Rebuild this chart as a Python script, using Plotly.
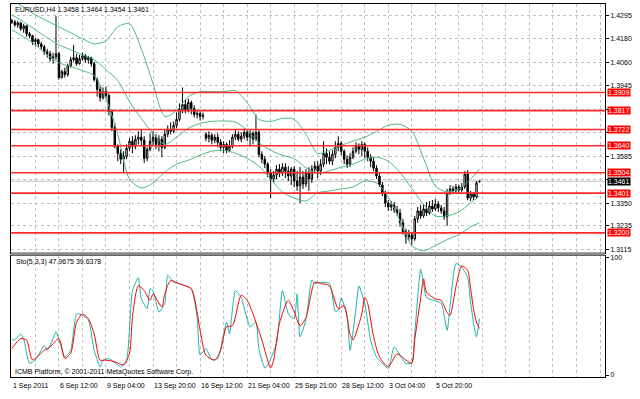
import plotly.graph_objects as go

# ---------------- data ----------------
opens = [1.4270, 1.4265, 1.4250, 1.4260, 1.4230, 1.4245, 1.4205, 1.4195, 1.4165, 1.4175,
         1.4154, 1.4139, 1.4114, 1.4104, 1.4079, 1.4089, 1.4104, 1.3984, 1.4014, 1.3999,
         1.4044, 1.4074, 1.4084, 1.4054, 1.4079, 1.4094, 1.4074, 1.4084, 1.4054, 1.3974,
         1.3924, 1.3883, 1.3913, 1.3893, 1.3813, 1.3733, 1.3637, 1.3602, 1.3572, 1.3587,
         1.3627, 1.3663, 1.3637, 1.3673, 1.3683, 1.3668, 1.3577, 1.3622, 1.3663, 1.3683,
         1.3647, 1.3673, 1.3632, 1.3698, 1.3723, 1.3713, 1.3743, 1.3773, 1.3823, 1.3848,
         1.3823, 1.3858, 1.3828, 1.3798, 1.3803, 1.3788, 1.3698, 1.3678, 1.3693, 1.3668,
         1.3683, 1.3657, 1.3632, 1.3647, 1.3617, 1.3637, 1.3683, 1.3698, 1.3673, 1.3688,
         1.3708, 1.3683, 1.3703, 1.3673, 1.3708, 1.3597, 1.3572, 1.3547, 1.3502, 1.3472,
         1.3492, 1.3522, 1.3502, 1.3532, 1.3512, 1.3487, 1.3522, 1.3462, 1.3437, 1.3482,
         1.3447, 1.3502, 1.3472, 1.3522, 1.3537, 1.3512, 1.3547, 1.3602, 1.3582, 1.3562,
         1.3597, 1.3632, 1.3652, 1.3612, 1.3572, 1.3547, 1.3582, 1.3612, 1.3642, 1.3622,
         1.3647, 1.3612, 1.3582, 1.3562, 1.3527, 1.3487, 1.3442, 1.3401, 1.3351, 1.3331,
         1.3341, 1.3316, 1.3301, 1.3251, 1.3206, 1.3180, 1.3190, 1.3170, 1.3271, 1.3311,
         1.3286, 1.3321, 1.3301, 1.3336, 1.3321, 1.3346, 1.3326, 1.3311, 1.3281, 1.3401,
         1.3422, 1.3412, 1.3432, 1.3417, 1.3432, 1.3497, 1.3376, 1.3396, 1.3381, 1.3458]

highs = [1.4280, 1.4275, 1.4270, 1.4265, 1.4255, 1.4250, 1.4215, 1.4200, 1.4184, 1.4180,
         1.4165, 1.4149, 1.4129, 1.4119, 1.4109, 1.4295, 1.4114, 1.4024, 1.4034, 1.4054,
         1.4089, 1.4149, 1.4104, 1.4099, 1.4109, 1.4104, 1.4094, 1.4089, 1.4064, 1.3984,
         1.3944, 1.3934, 1.3939, 1.3903, 1.3823, 1.3753, 1.3647, 1.3622, 1.3612, 1.3647,
         1.3678, 1.3688, 1.3693, 1.3713, 1.3723, 1.3688, 1.3632, 1.3703, 1.3713, 1.3698,
         1.3693, 1.3688, 1.3723, 1.3743, 1.3758, 1.3763, 1.3808, 1.3853, 1.3934, 1.3873,
         1.3878, 1.3868, 1.3843, 1.3818, 1.3813, 1.3808, 1.3708, 1.3713, 1.3703, 1.3698,
         1.3703, 1.3673, 1.3663, 1.3657, 1.3668, 1.3698, 1.3723, 1.3713, 1.3708, 1.3728,
         1.3723, 1.3718, 1.3713, 1.3798, 1.3718, 1.3612, 1.3587, 1.3557, 1.3522, 1.3512,
         1.3542, 1.3547, 1.3552, 1.3552, 1.3537, 1.3532, 1.3537, 1.3512, 1.3532, 1.3512,
         1.3522, 1.3532, 1.3542, 1.3562, 1.3562, 1.3572, 1.3663, 1.3627, 1.3612, 1.3617,
         1.3663, 1.3688, 1.3663, 1.3622, 1.3592, 1.3602, 1.3632, 1.3657, 1.3652, 1.3663,
         1.3657, 1.3632, 1.3597, 1.3582, 1.3542, 1.3502, 1.3457, 1.3412, 1.3366, 1.3361,
         1.3356, 1.3336, 1.3321, 1.3271, 1.3221, 1.3216, 1.3206, 1.3286, 1.3331, 1.3341,
         1.3346, 1.3356, 1.3361, 1.3366, 1.3371, 1.3361, 1.3341, 1.3331, 1.3422, 1.3442,
         1.3437, 1.3447, 1.3442, 1.3452, 1.3512, 1.3517, 1.3412, 1.3407, 1.3462, 1.3464]

lows = [1.4255, 1.4240, 1.4235, 1.4220, 1.4210, 1.4190, 1.4184, 1.4149, 1.4144, 1.4139,
        1.4124, 1.4099, 1.4084, 1.4064, 1.4054, 1.4074, 1.3974, 1.3979, 1.3984, 1.3989,
        1.4034, 1.4064, 1.4044, 1.4049, 1.4069, 1.4059, 1.4054, 1.4039, 1.3964, 1.3888,
        1.3863, 1.3873, 1.3878, 1.3793, 1.3713, 1.3627, 1.3562, 1.3547, 1.3502, 1.3572,
        1.3612, 1.3602, 1.3622, 1.3647, 1.3637, 1.3552, 1.3562, 1.3612, 1.3637, 1.3622,
        1.3612, 1.3582, 1.3622, 1.3683, 1.3698, 1.3703, 1.3728, 1.3763, 1.3803, 1.3803,
        1.3808, 1.3798, 1.3783, 1.3778, 1.3768, 1.3773, 1.3663, 1.3657, 1.3647, 1.3652,
        1.3632, 1.3612, 1.3602, 1.3602, 1.3607, 1.3627, 1.3668, 1.3663, 1.3657, 1.3673,
        1.3663, 1.3637, 1.3647, 1.3663, 1.3582, 1.3552, 1.3527, 1.3482, 1.3376, 1.3452,
        1.3472, 1.3482, 1.3487, 1.3477, 1.3462, 1.3442, 1.3432, 1.3412, 1.3351, 1.3422,
        1.3432, 1.3412, 1.3452, 1.3502, 1.3477, 1.3492, 1.3532, 1.3547, 1.3547, 1.3542,
        1.3577, 1.3612, 1.3592, 1.3547, 1.3527, 1.3532, 1.3572, 1.3602, 1.3597, 1.3587,
        1.3577, 1.3562, 1.3532, 1.3512, 1.3472, 1.3432, 1.3386, 1.3331, 1.3311, 1.3311,
        1.3301, 1.3286, 1.3231, 1.3191, 1.3145, 1.3160, 1.3140, 1.3160, 1.3251, 1.3271,
        1.3276, 1.3286, 1.3291, 1.3306, 1.3311, 1.3306, 1.3296, 1.3266, 1.3236, 1.3392,
        1.3397, 1.3402, 1.3397, 1.3407, 1.3422, 1.3366, 1.3361, 1.3366, 1.3371, 1.3454]

closes = [1.4265, 1.4250, 1.4260, 1.4230, 1.4245, 1.4205, 1.4195, 1.4165, 1.4175, 1.4154,
          1.4139, 1.4114, 1.4104, 1.4079, 1.4089, 1.4104, 1.3984, 1.4014, 1.3999, 1.4044,
          1.4074, 1.4084, 1.4054, 1.4079, 1.4094, 1.4074, 1.4084, 1.4054, 1.3974, 1.3924,
          1.3883, 1.3913, 1.3893, 1.3813, 1.3733, 1.3637, 1.3602, 1.3572, 1.3587, 1.3627,
          1.3663, 1.3637, 1.3673, 1.3683, 1.3668, 1.3577, 1.3622, 1.3663, 1.3683, 1.3647,
          1.3673, 1.3632, 1.3698, 1.3723, 1.3713, 1.3743, 1.3773, 1.3823, 1.3848, 1.3823,
          1.3858, 1.3828, 1.3798, 1.3803, 1.3788, 1.3793, 1.3678, 1.3693, 1.3668, 1.3683,
          1.3657, 1.3632, 1.3647, 1.3617, 1.3637, 1.3683, 1.3698, 1.3673, 1.3688, 1.3708,
          1.3683, 1.3703, 1.3673, 1.3708, 1.3597, 1.3572, 1.3547, 1.3502, 1.3472, 1.3492,
          1.3522, 1.3502, 1.3532, 1.3512, 1.3487, 1.3522, 1.3462, 1.3437, 1.3482, 1.3447,
          1.3502, 1.3472, 1.3522, 1.3537, 1.3512, 1.3547, 1.3602, 1.3582, 1.3562, 1.3597,
          1.3632, 1.3652, 1.3612, 1.3572, 1.3547, 1.3582, 1.3612, 1.3642, 1.3622, 1.3647,
          1.3612, 1.3582, 1.3562, 1.3527, 1.3487, 1.3442, 1.3401, 1.3351, 1.3331, 1.3341,
          1.3316, 1.3301, 1.3251, 1.3206, 1.3180, 1.3190, 1.3170, 1.3271, 1.3311, 1.3286,
          1.3321, 1.3301, 1.3336, 1.3321, 1.3346, 1.3326, 1.3311, 1.3281, 1.3401, 1.3422,
          1.3412, 1.3432, 1.3417, 1.3432, 1.3497, 1.3376, 1.3396, 1.3381, 1.3452, 1.3461]

# Bollinger bands (20,2) read at every 4th bar
bb_bars = [0, 4, 8, 12, 16, 20, 24, 28, 32, 36, 40, 44, 48, 52, 56, 60, 64, 68, 72, 76,
           80, 84, 88, 92, 96, 100, 104, 108, 112, 116, 120, 124, 128, 132, 136, 140, 144,
           148, 152, 156, 159]
bb_upper = [1.4375, 1.4340, 1.4300, 1.4270, 1.4240, 1.4210, 1.4180, 1.4154, 1.4170, 1.4240,
            1.4255, 1.4129, 1.3954, 1.3788, 1.3818, 1.3888, 1.3913, 1.3913, 1.3913, 1.3918,
            1.3858, 1.3773, 1.3763, 1.3778, 1.3773, 1.3698, 1.3602, 1.3617, 1.3642, 1.3663,
            1.3683, 1.3713, 1.3743, 1.3748, 1.3713, 1.3577, 1.3437, 1.3406, 1.3422, 1.3472,
            1.3522]
bb_middle = [1.4300, 1.4265, 1.4225, 1.4185, 1.4149, 1.4124, 1.4099, 1.4074, 1.4024, 1.3969,
             1.3863, 1.3778, 1.3703, 1.3647, 1.3683, 1.3728, 1.3753, 1.3763, 1.3765, 1.3760,
             1.3718, 1.3655, 1.3617, 1.3592, 1.3575, 1.3529, 1.3502, 1.3514, 1.3532, 1.3547,
             1.3572, 1.3582, 1.3562, 1.3505, 1.3424, 1.3344, 1.3286, 1.3286, 1.3306, 1.3351,
             1.3386]
bb_lower = [1.4225, 1.4190, 1.4149, 1.4099, 1.4059, 1.4039, 1.4019, 1.3994, 1.3878, 1.3698,
            1.3472, 1.3427, 1.3452, 1.3507, 1.3547, 1.3567, 1.3592, 1.3612, 1.3617, 1.3602,
            1.3577, 1.3537, 1.3472, 1.3407, 1.3376, 1.3361, 1.3402, 1.3412, 1.3422, 1.3432,
            1.3462, 1.3452, 1.3381, 1.3261, 1.3136, 1.3110, 1.3136, 1.3166, 1.3191, 1.3231,
            1.3251]

# Stochastic (5,3,3)
k_bars = [0, 1, 3, 4, 6, 8, 11, 12, 14, 15, 17, 18, 20, 22, 24, 26, 28, 30, 31, 33,
          36, 37, 39, 41, 43, 44, 46, 47, 48, 50, 52, 53, 55, 57, 61, 63, 64, 66, 68, 70,
          73, 74, 76, 78, 81, 83, 84, 86, 87, 90, 92, 94, 96, 97, 98, 100, 102, 103, 105, 108,
          110, 111, 112, 114, 115, 117, 118, 120, 122, 124, 128, 130, 133, 134, 136, 137, 139, 140, 141, 143,
          146, 148, 149, 151, 153, 155, 156, 157, 158, 159]
k_vals = [30, 30, 35, 31, 10, 13, 25, 21, 31, 37, 22, 15.5, 21, 52, 51, 47, 21, 7, 12.7, 14,
          8.5, 7, 12.7, 72, 83, 65, 56.5, 73.5, 72, 53.6, 61, 85, 79, 77.7, 73.5, 49.4, 17, 22.6, 13, 14,
          45, 35, 72, 66, 41, 45, 22, 6, 8.5, 27, 72, 52, 48, 69, 32.5, 47, 81, 78, 79, 78,
          54, 55, 66, 49.4, 21, 56, 76, 61, 29.7, 15.5, 5.7, 24, 12.7, 9.9, 10, 35, 90, 77.7, 66, 64,
          61, 38, 58, 95, 92, 83, 62, 44, 32.5, 47.9675]
d_bars = [0, 3, 5, 7, 11, 13, 16, 18, 20, 22, 24, 26, 28, 30, 32, 35, 38, 40, 41, 43,
          45, 47, 48, 51, 52, 54, 57, 61, 64, 66, 69, 71, 73, 75, 78, 80, 82, 85, 88, 89,
          91, 94, 96, 98, 100, 103, 105, 108, 111, 113, 115, 116, 119, 120, 121, 123, 125, 128, 131, 134,
          136, 137, 139, 140, 141, 144, 146, 148, 149, 151, 153, 155, 156, 157, 158, 159]
d_vals = [22.6, 31, 29.7, 13, 21, 24, 31, 14.2, 18.4, 45, 52, 48, 35, 12.7, 12.7, 11.3, 8.5, 18.4, 49, 76,
          72, 63.6, 69, 58, 69, 80.5, 77.7, 73.5, 38, 17, 12.7, 21, 41, 42, 68, 63.6, 52, 30, 6, 12.7,
          44, 63.6, 54, 42, 49, 79, 78, 76, 56.5, 59, 35, 30, 52, 66, 61, 32.5, 15.5, 7, 18, 12.7,
          10, 30, 65, 82, 70.6, 65, 63.6, 53, 50.8, 75, 93, 89, 74, 56, 45, 39.6378]

# horizontal levels (red lines) and current price
levels = [1.3909, 1.3817, 1.3722, 1.3640, 1.3504, 1.3401, 1.3200]
bid = 1.3461

# axis labels (labels hidden behind the level boxes are left blank)
price_ticks = [1.4295, 1.4180, 1.4060, 1.3945, 1.3825, 1.3705, 1.3585, 1.3470, 1.3350, 1.3235, 1.3115]
price_labels = ["1.4295", "1.4180", "1.4060", "1.3945", "", "", "1.3585", "", "1.3350", "1.3235", "1.3115"]
time_label_bars = [0, 16, 32, 48, 64, 80, 96, 112, 128, 144]
time_labels = ["1 Sep 2011", "6 Sep 12:00", "9 Sep 04:00", "13 Sep 20:00", "16 Sep 12:00",
               "21 Sep 04:00", "25 Sep 21:00", "28 Sep 12:00", "3 Oct 04:00", "5 Oct 20:00"]

title_text = "EURUSD,H4 1.3458 1.3464 1.3454 1.3461"
sto_text = "Sto(5,3,3) 47.9675 39.6378"
copyright_text = "ICMB Platform, \u00a9 2001-2011 MetaQuotes Software Corp."

# ---------------- figure ----------------
FONT = "Liberation Sans, Arial, sans-serif"
GRID = "#C0C0C0"
BAND = "#4CBB7F"

bars = list(range(len(closes)))
fig = go.Figure()

fig.add_trace(go.Candlestick(
    x=bars, open=opens, high=highs, low=lows, close=closes,
    xaxis="x", yaxis="y", whiskerwidth=0,
    increasing=dict(line=dict(color="black", width=1), fillcolor="white"),
    decreasing=dict(line=dict(color="black", width=1), fillcolor="black"),
    showlegend=False, hoverinfo="skip"))

for band in (bb_upper, bb_middle, bb_lower):
    fig.add_trace(go.Scatter(x=bb_bars, y=band, mode="lines", xaxis="x", yaxis="y",
                             line=dict(color=BAND, width=1, shape="spline", smoothing=0.8),
                             showlegend=False, hoverinfo="skip"))

fig.add_trace(go.Scatter(x=k_bars, y=k_vals, mode="lines", xaxis="x2", yaxis="y2",
                         line=dict(color="#20B2AA", width=1, shape="spline", smoothing=0.5),
                         showlegend=False, hoverinfo="skip"))
fig.add_trace(go.Scatter(x=d_bars, y=d_vals, mode="lines", xaxis="x2", yaxis="y2",
                         line=dict(color="#FF0000", width=1, shape="spline", smoothing=0.7),
                         showlegend=False, hoverinfo="skip"))

grid_ticks = list(range(0, 201, 8))
xcommon = dict(range=[-0.3, 201.7], tickvals=grid_ticks, showticklabels=False,
               showgrid=True, gridcolor=GRID, griddash="dot", gridwidth=1,
               zeroline=False, showline=True, linecolor="black", linewidth=1, mirror=True,
               ticks="")

shapes = []
# current price line
shapes.append(dict(type="line", xref="paper", x0=0, x1=1, yref="y", y0=bid, y1=bid,
                   line=dict(color="#C0C0C0", width=1), layer="below"))
for lv in levels:
    shapes.append(dict(type="line", xref="paper", x0=0, x1=1, yref="y", y0=lv, y1=lv,
                       line=dict(color="#FF2A2A", width=1.6), layer="above"))
# separator between panels
shapes.append(dict(type="rect", xref="paper", x0=0, x1=1, yref="paper",
                   y0=0.3253, y1=0.3347, fillcolor="#8A8A8A", line=dict(width=0), layer="above"))

annotations = []
for lv in levels:
    annotations.append(dict(text=f"{lv:.4f}", x=1, xref="paper", xanchor="left", xshift=2,
                            y=lv, yref="y", yanchor="middle", showarrow=False,
                            font=dict(family=FONT, size=7, color="white"),
                            bgcolor="#FF0000", borderpad=0))
annotations.append(dict(text=f"{bid:.4f}", x=1, xref="paper", xanchor="left", xshift=2,
                        y=bid, yref="y", yanchor="middle", showarrow=False,
                        font=dict(family=FONT, size=7, color="white"),
                        bgcolor="#000000", borderpad=0))
for b, lab in zip(time_label_bars, time_labels):
    annotations.append(dict(text=lab, x=b, xref="x2", xanchor="left", xshift=-1,
                            y=0, yref="paper", yanchor="top", yshift=-3, showarrow=False,
                            font=dict(family=FONT, size=7, color="black")))
annotations.append(dict(text=title_text, x=0.003, xref="paper", xanchor="left",
                        y=0.984, yref="paper", yanchor="middle", showarrow=False,
                        font=dict(family=FONT, size=7, color="black")))
annotations.append(dict(text=sto_text, x=0.005, xref="paper", xanchor="left",
                        y=0.308, yref="paper", yanchor="middle", showarrow=False,
                        font=dict(family=FONT, size=7, color="black")))
annotations.append(dict(text=copyright_text, x=0.003, xref="paper", xanchor="left",
                        y=0.0147, yref="paper", yanchor="middle", showarrow=False,
                        font=dict(family=FONT, size=7, color="black")))

fig.update_layout(
    width=640, height=399,
    margin=dict(l=11, r=35, t=2, b=22),
    paper_bgcolor="white", plot_bgcolor="white",
    font=dict(family=FONT, size=7, color="black"),
    showlegend=False,
    xaxis=dict(**xcommon, domain=[0, 1], anchor="y", rangeslider=dict(visible=False)),
    xaxis2=dict(**xcommon, domain=[0, 1], anchor="y2", matches="x"),
    yaxis=dict(domain=[0.3333, 1], anchor="x", side="right", range=[1.31003, 1.43553],
               tickvals=price_ticks, ticktext=price_labels,
               ticks="outside", ticklen=3, tickcolor="black",
               tickfont=dict(family=FONT, size=7, color="black"),
               showgrid=True, gridcolor=GRID, griddash="dot", gridwidth=1,
               zeroline=False, showline=True, linecolor="black", linewidth=1, mirror=True),
    yaxis2=dict(domain=[0, 0.3253], anchor="x2", side="right", range=[-1.7, 101.7],
                tickvals=[0, 100], ticktext=["0", "100"],
                ticks="outside", ticklen=3, tickcolor="black",
                tickfont=dict(family=FONT, size=7, color="black"),
                showgrid=False, zeroline=False, showline=True, linecolor="black",
                linewidth=1, mirror=True),
    shapes=shapes, annotations=annotations,
)

fig.write_html("out.html", config={"displayModeBar": False},
               post_script="document.body.style.margin='0';")
